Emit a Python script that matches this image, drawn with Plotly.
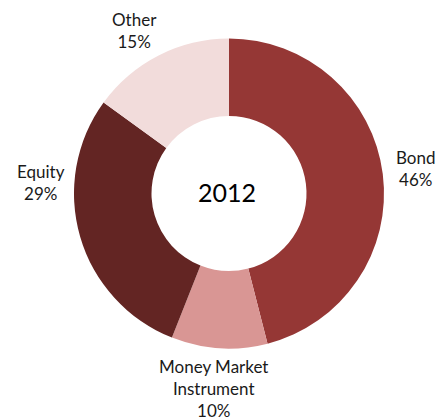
import plotly.graph_objects as go

categories = ["Bond", "Money Market<br>Instrument", "Equity", "Other"]
values = [46, 10, 29, 15]
colors = ["#953735", "#D99694", "#632523", "#F2DCDB"]
center_label = "2012"

# page body adds an 8px margin; figure is sized/positioned to compensate
OFF = 8
W, H = 444 - OFF, 420 - OFF
CX, CY, R = 229 - OFF, 193.5 - OFF, 155
# label anchor positions in screen pixels (x, y center of text block)
label_px = [(416, 168), (213, 388), (41, 183), (134, 31)]

fig = go.Figure()
fig.add_trace(go.Pie(
    labels=categories, values=values, sort=False, direction="clockwise",
    rotation=0, hole=0.5, textinfo="none", hoverinfo="label+percent",
    marker=dict(colors=colors, line=dict(width=0)),
    domain=dict(x=[(CX - R) / W, (CX + R) / W],
                y=[(H - CY - R) / H, (H - CY + R) / H]),
    showlegend=False,
))

total = sum(values)
for lab, v, (px, py) in zip(categories, values, label_px):
    fig.add_annotation(
        x=(px - OFF) / W, y=1 - (py - OFF) / H, xref="paper", yref="paper",
        text=f"{lab}<br>{round(100 * v / total)}%", showarrow=False,
        font=dict(family="Lato, Open Sans, sans-serif", size=17, color="#1a1a1a"),
        align="center", xanchor="center", yanchor="middle",
    )

fig.add_annotation(
    x=(227 - OFF) / W, y=1 - (192 - OFF) / H, xref="paper", yref="paper",
    text=center_label, showarrow=False,
    font=dict(family="Lato, Open Sans, sans-serif", size=25, color="#000000"),
    xanchor="center", yanchor="middle",
)

fig.update_layout(
    width=W, height=H, margin=dict(l=0, r=0, t=0, b=0),
    paper_bgcolor="white", plot_bgcolor="white",
)
fig.write_html("out.html")
